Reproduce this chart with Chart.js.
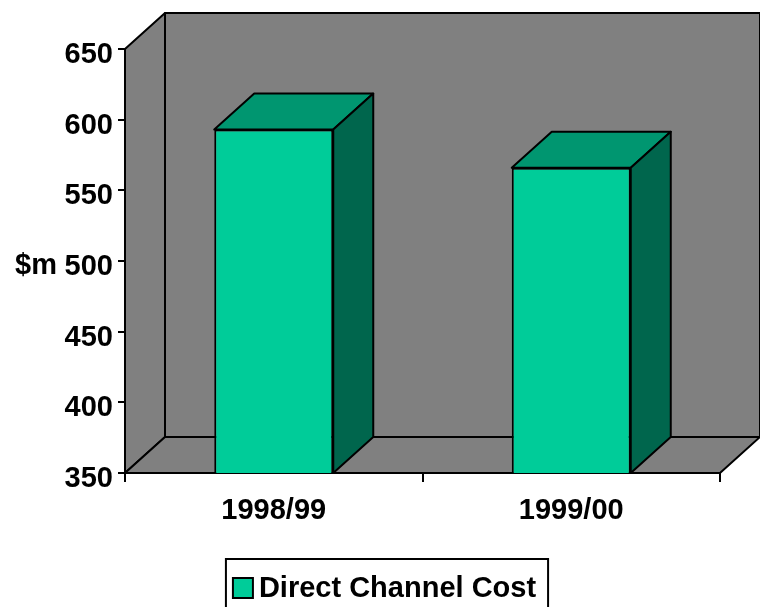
<!DOCTYPE html>
<html>
<head>
<meta charset="utf-8">
<script src="https://cdn.jsdelivr.net/npm/chart.js@4/dist/chart.umd.min.js"></script>
<style>
  body { margin: 0; background: #fff; }
  #wrap { width: 760px; height: 607px; }
</style>
</head>
<body>
<div id="wrap"><canvas id="custoCanal"></canvas></div>
<script>
// dados do grafico
const anos = ['1998/99', '1999/00'];
const custoDireto = [593, 566];
const eixoY = { min: 350, max: 650, passo: 50 };
const tituloY = '$m';
const nomeSerie = 'Direct Channel Cost';

const FONTE = 'bold 29px "Liberation Sans", Arial, sans-serif';
const PROF_X = 40, PROF_Y = 36; // profundidade do efeito 3D

// ===== paredes e piso (desenhados antes das escalas) =====
const paredes3d = {
  id: 'paredes3d',
  beforeDraw(chart) {
    const { ctx, chartArea: a } = chart;
    ctx.save();
    ctx.fillStyle = '#808080';
    ctx.strokeStyle = '#000';
    ctx.lineWidth = 2;
    ctx.lineJoin = 'round';
    const poly = (pts) => {
      ctx.beginPath();
      ctx.moveTo(pts[0][0], pts[0][1]);
      pts.slice(1).forEach(p => ctx.lineTo(p[0], p[1]));
      ctx.closePath();
      ctx.fill();
      ctx.stroke();
    };
    // fundo
    poly([[a.left + PROF_X, a.top - PROF_Y], [a.right + PROF_X, a.top - PROF_Y],
          [a.right + PROF_X, a.bottom - PROF_Y], [a.left + PROF_X, a.bottom - PROF_Y]]);
    // lateral esquerda
    poly([[a.left, a.bottom], [a.left, a.top], [a.left + PROF_X, a.top - PROF_Y],
          [a.left + PROF_X, a.bottom - PROF_Y]]);
    // piso
    poly([[a.left, a.bottom], [a.right, a.bottom], [a.right + PROF_X, a.bottom - PROF_Y],
          [a.left + PROF_X, a.bottom - PROF_Y]]);
    ctx.restore();
  }
};

// ===== topo e lateral das barras =====
const barras3d = {
  id: 'barras3d',
  afterDatasetsDraw(chart) {
    const { ctx } = chart;
    const base = chart.scales.y.getPixelForValue(eixoY.min);
    ctx.save();
    ctx.strokeStyle = '#000';
    ctx.lineWidth = 2;
    ctx.lineJoin = 'round';
    chart.getDatasetMeta(0).data.forEach(bar => {
      const { x, y, width } = bar;
      const l = x - width / 2, r = x + width / 2;
      // topo
      ctx.fillStyle = '#009670';
      ctx.beginPath();
      ctx.moveTo(l, y);
      ctx.lineTo(r, y);
      ctx.lineTo(r + PROF_X, y - PROF_Y);
      ctx.lineTo(l + PROF_X, y - PROF_Y);
      ctx.closePath();
      ctx.fill();
      ctx.stroke();
      // lateral
      ctx.fillStyle = '#00664d';
      ctx.beginPath();
      ctx.moveTo(r, y);
      ctx.lineTo(r + PROF_X, y - PROF_Y);
      ctx.lineTo(r + PROF_X, base - PROF_Y);
      ctx.lineTo(r, base);
      ctx.closePath();
      ctx.fill();
      ctx.stroke();
    });
    ctx.restore();
  }
};

// ===== titulo do eixo e legenda =====
const textosExtras = {
  id: 'textosExtras',
  afterDraw(chart) {
    const { ctx, chartArea: a } = chart;
    ctx.save();
    ctx.font = FONTE;
    ctx.fillStyle = '#000';
    ctx.textBaseline = 'middle';
    ctx.textAlign = 'left';
    ctx.fillText(tituloY, 15, (a.top + a.bottom) / 2 + 5);

    // legenda com moldura
    const ds = chart.data.datasets[0];
    const tw = ctx.measureText(ds.label).width;
    const caixa = 20, gap = 6, pad = 7;
    const w = pad + caixa + gap + tw + 12;
    const left = (chart.width - w) / 2 + 7;
    const top = a.bottom + 86;
    ctx.fillStyle = '#fff';
    ctx.strokeStyle = '#000';
    ctx.lineWidth = 2;
    ctx.fillRect(left, top, w, 60);
    ctx.strokeRect(left, top, w, 60);
    const cy = top + 29;
    ctx.fillStyle = ds.backgroundColor;
    ctx.fillRect(left + pad, cy - 10, caixa, caixa);
    ctx.strokeRect(left + pad, cy - 10, caixa, caixa);
    ctx.fillStyle = '#000';
    ctx.fillText(ds.label, left + pad + caixa + gap, cy + 1);
    ctx.restore();
  }
};

new Chart(document.getElementById('custoCanal'), {
  type: 'bar',
  data: {
    labels: anos,
    datasets: [{
      label: nomeSerie,
      data: custoDireto,
      backgroundColor: '#00cc99',
      borderColor: '#000',
      borderWidth: 2,
      borderSkipped: false,
      categoryPercentage: 1,
      barPercentage: 0.4
    }]
  },
  options: {
    responsive: true,
    maintainAspectRatio: false,
    animation: false,
    layout: { padding: { top: 49, right: 40, left: 0, bottom: 0 } },
    plugins: { legend: { display: false }, tooltip: { enabled: false } },
    scales: {
      x: {
        grid: { drawOnChartArea: false, color: '#000', lineWidth: 2, tickLength: 9 },
        border: { color: '#000', width: 2 },
        ticks: { color: '#000', font: { family: '"Liberation Sans", Arial, sans-serif', size: 29, weight: 'bold' }, padding: 12 },
        afterFit(scale) { scale.height = 134; }
      },
      y: {
        min: eixoY.min,
        max: eixoY.max,
        grid: { drawOnChartArea: false, color: '#000', lineWidth: 2, tickLength: 7 },
        border: { color: '#000', width: 2 },
        ticks: {
          stepSize: eixoY.passo,
          color: '#000',
          padding: 5,
          labelOffset: 6,
          font: { family: '"Liberation Sans", Arial, sans-serif', size: 29, weight: 'bold' }
        },
        afterFit(scale) { scale.width = 125; }
      }
    }
  },
  plugins: [paredes3d, barras3d, textosExtras]
});
</script>
</body>
</html>
